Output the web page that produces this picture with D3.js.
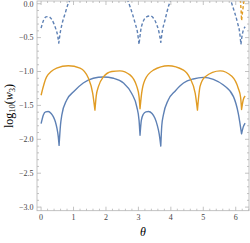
<!DOCTYPE html>
<html>
<head>
<meta charset="utf-8">
<script src="https://cdn.jsdelivr.net/npm/d3@7"></script>
<style>
  body { margin: 0; background: #fff; }
  svg { display: block; }
  text { font-family: "Liberation Serif", "DejaVu Serif", serif; }
</style>
</head>
<body>
<svg id="chart" width="250" height="243"></svg>
<script>
// tick values
var xTicks = [0, 1, 2, 3, 4, 5, 6];
var yTicks = [0, -0.5, -1, -1.5, -2, -2.5, -3];

// each series is a list of arches as [theta, log10 w3]
var blueSolid = [
  [[0, -1.77], [0.07, -1.64], [0.14, -1.595], [0.22, -1.59], [0.31, -1.62], [0.38, -1.67], [0.44, -1.74], [0.49, -1.84], [0.53, -1.96], [0.555, -2.09]],
  [[0.555, -2.09], [0.6, -1.78], [0.64, -1.64], [0.79, -1.42], [1.0, -1.30], [1.3, -1.17], [1.61, -1.10], [1.92, -1.08], [2.23, -1.10], [2.54, -1.17], [2.79, -1.32], [2.95, -1.52], [3.02, -1.72], [3.05, -1.94]],
  [[3.05, -1.94], [3.09, -1.72], [3.15, -1.63], [3.23, -1.595], [3.31, -1.59], [3.42, -1.62], [3.51, -1.69], [3.58, -1.79], [3.64, -1.92], [3.69, -2.10]],
  [[3.69, -2.10], [3.72, -1.80], [3.77, -1.64], [3.92, -1.42], [4.13, -1.29], [4.39, -1.17], [4.69, -1.11], [5.0, -1.086], [5.31, -1.115], [5.62, -1.20], [5.93, -1.37], [6.08, -1.62], [6.18, -1.92]],
  [[6.18, -1.92], [6.23, -1.82], [6.29, -1.76]]
];

var orangeSolid = [
  [[0, -1.35], [0.17, -1.08], [0.48, -0.95], [0.84, -0.914], [1.20, -0.95], [1.46, -1.10], [1.59, -1.32], [1.66, -1.57]],
  [[1.66, -1.57], [1.70, -1.36], [1.77, -1.22], [1.92, -1.08], [2.18, -1.00], [2.43, -0.99], [2.74, -1.05], [2.95, -1.22], [3.02, -1.37], [3.05, -1.55]],
  [[3.05, -1.55], [3.10, -1.32], [3.20, -1.125], [3.46, -0.98], [3.92, -0.914], [4.39, -0.98], [4.59, -1.10], [4.75, -1.32], [4.82, -1.57]],
  [[4.82, -1.57], [4.86, -1.36], [4.90, -1.22], [5.05, -1.08], [5.52, -0.99], [5.88, -1.07], [6.08, -1.25], [6.15, -1.38], [6.18, -1.56]],
  [[6.18, -1.56], [6.23, -1.42], [6.29, -1.36]]
];

var blueDashed = [
  [[0, -0.36], [0.08, -0.24], [0.15, -0.195], [0.22, -0.19], [0.31, -0.22], [0.39, -0.29], [0.46, -0.38], [0.51, -0.47], [0.545, -0.58]],
  [[0.545, -0.58], [0.6, -0.40], [0.65, -0.29], [0.75, -0.13], [0.82, -0.02], [0.9, 0.06]],
  [[2.66, 0.06], [2.74, -0.04], [2.90, -0.29], [2.97, -0.42], [3.02, -0.60]],
  [[3.02, -0.60], [3.07, -0.40], [3.15, -0.26], [3.25, -0.195], [3.36, -0.18], [3.46, -0.21], [3.55, -0.29], [3.63, -0.41], [3.69, -0.57]],
  [[3.69, -0.57], [3.74, -0.40], [3.82, -0.24], [3.94, -0.02], [4.0, 0.06]],
  [[5.84, 0.06], [5.90, -0.03], [6.06, -0.29], [6.12, -0.42], [6.16, -0.60]],
  [[6.16, -0.60], [6.2, -0.46], [6.29, -0.34]]
];

var orangeDashed = [
  [[6.14, 0.06], [6.165, -0.10], [6.18, -0.25]],
  [[6.18, -0.25], [6.21, -0.12], [6.26, 0.06]]
];

var blue = "#5e81b5", orange = "#e19c24";

var svg = d3.select("#chart");
var padL = 37, padR = 249, padT = 1, padB = 210.7;

var x = d3.scaleLinear().domain([-0.126, 6.409]).range([padL, padR]);
var y = d3.scaleLinear().domain([-3.053, 0.04]).range([padB, padT]);

svg.append("clipPath").attr("id", "clip")
  .append("rect").attr("x", padL).attr("y", padT)
  .attr("width", padR - padL).attr("height", padB - padT);

var line = d3.line()
  .x(function(d) { return x(d[0]); })
  .y(function(d) { return y(d[1]); })
  .curve(d3.curveMonotoneX);

// join arches into one path so cusps stay sharp
function archPath(arches) {
  var d = arches.map(function(a) { return line(a); });
  return d[0] + d.slice(1).map(function(s) { return s.replace(/^M/, "L"); }).join("");
}

var plot = svg.append("g").attr("clip-path", "url(#clip)");

function drawSeries(arches, color, dash) {
  plot.append("path")
    .attr("d", archPath(arches))
    .attr("fill", "none")
    .attr("stroke", color)
    .attr("stroke-width", 1.4)
    .attr("stroke-linejoin", "round")
    .attr("stroke-dasharray", dash);
}

drawSeries(blueSolid, blue, null);
drawSeries(orangeSolid, orange, null);
drawSeries(blueDashed, blue, "3.2,2.2");
drawSeries(orangeDashed, orange, "3.2,2.2");

// frame
var axisColor = "#b4b4b4";
svg.append("rect")
  .attr("x", padL).attr("y", padT)
  .attr("width", padR - padL).attr("height", padB - padT)
  .attr("fill", "none").attr("stroke", axisColor).attr("stroke-width", 0.8);

var xMinor = d3.range(0, 6.41, 0.2).filter(function(v) { return Math.abs(v - Math.round(v)) > 0.01; });
var yMinor = d3.range(-3.0, 0.01, 0.1).filter(function(v) { return Math.abs(v * 2 - Math.round(v * 2)) > 0.01; });

var ticks = svg.append("g").attr("stroke", axisColor).attr("stroke-width", 0.8);
xTicks.forEach(function(t) {
  ticks.append("line").attr("x1", x(t)).attr("x2", x(t)).attr("y1", padB).attr("y2", padB - 4);
  ticks.append("line").attr("x1", x(t)).attr("x2", x(t)).attr("y1", padT).attr("y2", padT + 4);
});
xMinor.forEach(function(t) {
  ticks.append("line").attr("x1", x(t)).attr("x2", x(t)).attr("y1", padB).attr("y2", padB - 2);
  ticks.append("line").attr("x1", x(t)).attr("x2", x(t)).attr("y1", padT).attr("y2", padT + 2);
});
yTicks.forEach(function(t) {
  ticks.append("line").attr("x1", padL).attr("x2", padL + 4).attr("y1", y(t)).attr("y2", y(t));
  ticks.append("line").attr("x1", padR).attr("x2", padR - 4).attr("y1", y(t)).attr("y2", y(t));
});
yMinor.forEach(function(t) {
  ticks.append("line").attr("x1", padL).attr("x2", padL + 2).attr("y1", y(t)).attr("y2", y(t));
  ticks.append("line").attr("x1", padR).attr("x2", padR - 2).attr("y1", y(t)).attr("y2", y(t));
});

// tick labels
svg.append("g").selectAll("text").data(xTicks).enter().append("text")
  .attr("x", function(d) { return x(d); })
  .attr("y", 219.5)
  .attr("text-anchor", "middle")
  .attr("font-size", 8)
  .attr("fill", "#444")
  .text(function(d) { return d; });

svg.append("g").selectAll("text").data(yTicks).enter().append("text")
  .attr("x", 33.5)
  .attr("y", function(d) { return y(d) + 2.8; })
  .attr("text-anchor", "end")
  .attr("font-size", 8)
  .attr("fill", "#444")
  .text(function(d) { return d === 0 ? "0.0" : "\u2212" + d3.format(".1f")(-d); });

// axis titles
svg.append("text")
  .attr("x", 143).attr("y", 236)
  .attr("text-anchor", "middle")
  .attr("font-size", 12)
  .attr("font-style", "italic")
  .text("\u03b8");

var yl = svg.append("text")
  .attr("transform", "translate(12.5,106) rotate(-90)")
  .attr("text-anchor", "middle")
  .attr("font-size", 12);
yl.append("tspan").text("log");
yl.append("tspan").attr("font-size", 8.5).attr("dy", 2.8).text("10");
yl.append("tspan").attr("dy", -2.8).text("(");
yl.append("tspan").attr("font-style", "italic").text("w");
yl.append("tspan").attr("font-size", 8.5).attr("dy", 2.8).text("3");
yl.append("tspan").attr("dy", -2.8).text(")");
</script>
</body>
</html>
